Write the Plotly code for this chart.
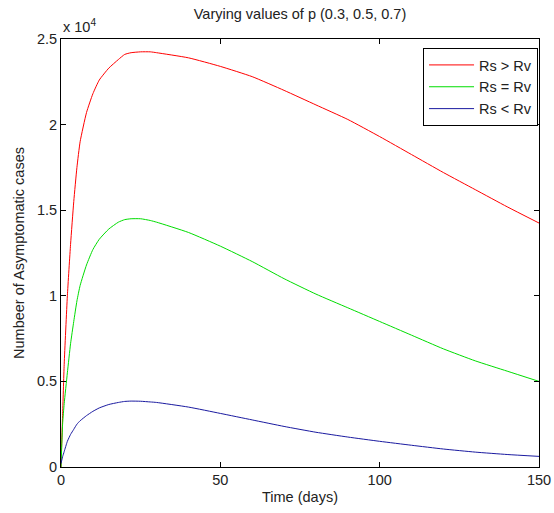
import plotly.graph_objects as go

# Time (days)
t = [0, 0.5, 1, 2, 3, 4, 5, 6, 8, 10, 12, 15, 18, 20, 22, 25, 28, 30,
     40, 50, 60, 70, 80, 90, 100, 110, 120, 130, 140, 150]

# Asymptomatic cases, in units of 10^4
rs_gt_rv = [0, 0.30, 0.60, 1.00, 1.30, 1.55, 1.75, 1.90, 2.07, 2.18, 2.26, 2.33, 2.38, 2.41, 2.42, 2.425, 2.425, 2.42,
            2.39, 2.34, 2.28, 2.20, 2.115, 2.03, 1.93, 1.825, 1.72, 1.62, 1.52, 1.425]
rs_eq_rv = [0, 0.25, 0.37, 0.55, 0.72, 0.85, 0.97, 1.06, 1.18, 1.27, 1.33, 1.39, 1.43, 1.445, 1.45, 1.45, 1.44, 1.43,
            1.37, 1.29, 1.20, 1.10, 1.01, 0.93, 0.85, 0.77, 0.69, 0.62, 0.56, 0.50]
rs_lt_rv = [0.02, 0.06, 0.09, 0.15, 0.19, 0.22, 0.25, 0.27, 0.30, 0.325, 0.345, 0.365, 0.377, 0.383, 0.385, 0.384, 0.38, 0.377,
            0.35, 0.313, 0.275, 0.237, 0.203, 0.175, 0.15, 0.127, 0.105, 0.087, 0.073, 0.062]

names = ["Rs > Rv", "Rs = Rv", "Rs < Rv"]
series = [rs_gt_rv, rs_eq_rv, rs_lt_rv]
colors = ["#ff0000", "#00dd00", "#1a1aa0"]

x_ticks = [0, 50, 100, 150]
y_ticks = [0, 0.5, 1, 1.5, 2, 2.5]

FAM = "Liberation Sans, Arial, sans-serif"
font = dict(family=FAM, size=14.5, color="#222222")

fig = go.Figure()
for n, s, c in zip(names, series, colors):
    fig.add_trace(go.Scatter(x=t, y=s, mode="lines", name=n,
                             line=dict(color=c, width=1, shape="spline", smoothing=0.5)))

axis_common = dict(showline=True, linecolor="black", linewidth=1, mirror="ticks",
                   ticks="inside", ticklen=5, tickcolor="black", showgrid=False,
                   zeroline=False, tickfont=font, automargin=False)

fig.update_layout(
    width=554, height=513,
    margin=dict(l=61, r=15, t=39, b=46),
    paper_bgcolor="white", plot_bgcolor="white",
    font=font,
    title=dict(text="Varying values of p (0.3, 0.5, 0.7)", x=0.5, xref="paper", xanchor="center",
               y=1 - 14 / 513, yanchor="middle", yref="container", font=font),
    xaxis=dict(range=[0, 150], tickvals=x_ticks, **axis_common,
               title=dict(text="Time (days)", font=font, standoff=4)),
    yaxis=dict(range=[0, 2.5], tickvals=y_ticks, **axis_common,
               title=dict(text="Numbeer of Asymptomatic cases", font=font, standoff=8)),
    legend=dict(x=0.998, y=0.979, xanchor="right", yanchor="top",
                bgcolor="white", bordercolor="black", borderwidth=1,
                font=font, tracegroupgap=0, itemwidth=45),
    showlegend=True,
)

fig.add_annotation(text="x 10<sup>4</sup>", xref="paper", yref="paper", x=0, y=1,
                   xanchor="left", yanchor="bottom", yshift=2, showarrow=False, font=font)

fig.write_html("out.html", config={"displayModeBar": False},
               post_script="document.body.style.margin='0';")
